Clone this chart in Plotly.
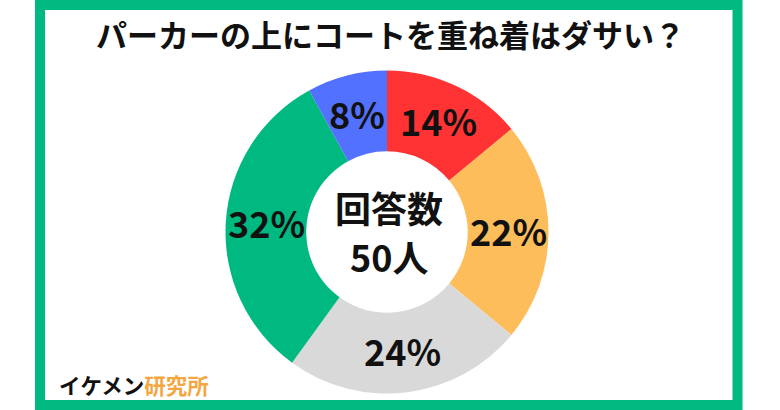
import math
import plotly.graph_objects as go

title_text = "パーカーの上にコートを重ね着はダサい？"
categories = ["A", "B", "C", "D", "E"]
values = [14, 22, 24, 32, 8]
labels_text = ["14%", "22%", "24%", "32%", "8%"]
colors = ["#FF3333", "#FDBD5B", "#D9D9D9", "#00B981", "#5271FF"]
center_line1 = "回答数"
center_line2 = "50人"
brand_black = "イケメン"
brand_orange = "研究所"

W, H = 780, 410
FONT = "Noto Sans CJK JP"
GREEN = "#00B981"

# pie geometry in pixels
CX, CY, R = 387, 232, 161.5
HOLE = 0.5

fig = go.Figure()
fig.add_trace(go.Pie(
    labels=categories,
    values=values,
    textinfo="none",
    marker=dict(colors=colors, line=dict(width=0)),
    hole=HOLE,
    sort=False,
    direction="clockwise",
    rotation=0,
    showlegend=False,
    hoverinfo="skip",
    domain=dict(x=[(CX - R) / W, (CX + R) / W], y=[(H - CY - R) / H, (H - CY + R) / H]),
))


def ann(px, py, text, size, xanchor="center"):
    fig.add_annotation(x=px / W, y=(H - py) / H, xref="paper", yref="paper",
                       xanchor=xanchor, yanchor="middle",
                       text=text, showarrow=False,
                       font=dict(family=FONT, size=size, color="#111111"))


# slice labels placed at mid-angle of each slice, mid-ring
total = sum(values)
cum = 0
r_mid = R * (1 + HOLE) / 2
for v, t in zip(values, labels_text):
    mid = (cum + v / 2) / total
    cum += v
    th = 2 * math.pi * mid
    ann(CX + r_mid * math.sin(th), CY - r_mid * math.cos(th) - 2, f"<b>{t}</b>", 36)

ann(389, 207, f"<b>{center_line1}</b>", 36)
ann(389, 256, f"<b>{center_line2}</b>", 36)
ann(390, 34, f"<b>{title_text}</b>", 31)
ann(57, 384, f"<b>{brand_black}<span style='color:#F4A640'>{brand_orange}</span></b>",
    21.5, xanchor="left")

fig.add_shape(type="rect", xref="paper", yref="paper",
              x0=40 / W, x1=737.5 / W, y0=5 / H, y1=(H - 5) / H,
              line=dict(color=GREEN, width=10), fillcolor="rgba(0,0,0,0)")

fig.update_layout(width=W, height=H, margin=dict(l=0, r=0, t=0, b=0),
                  paper_bgcolor="white", plot_bgcolor="white")
fig.write_html("out.html", config={"displayModeBar": False},
               post_script="document.body.style.margin='0';document.body.style.overflow='hidden';")
